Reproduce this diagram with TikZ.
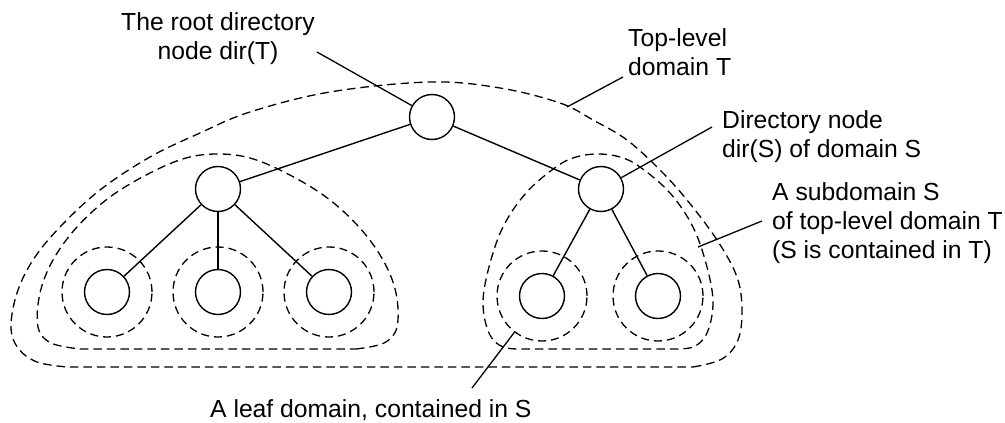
\documentclass[tikz,border=0pt]{standalone}
\usepackage{fontspec}
\setmainfont{Liberation Sans}
\begin{document}
\begin{tikzpicture}[x=1pt,y=-1pt,
  nd/.style={circle,draw,line width=1.4pt,minimum size=45pt,inner sep=0pt},
  dd/.style={circle,draw,line width=1.3pt,minimum size=90pt,inner sep=0pt,dash pattern=on 8pt off 5pt},
  dom/.style={draw,line width=1.3pt,dash pattern=on 8.5pt off 5pt},
  edge/.style={draw,line width=1.4pt},
  lead/.style={draw,line width=1.3pt},
  lbl/.style={inner sep=0pt,font=\fontsize{24.7}{29}\selectfont}
]
\useasboundingbox (0,0) rectangle (1005,423);

% top-level domain outline
\draw[dom] plot[smooth,tension=0.6] coordinates {(693,367) (722,359) (738,340) (742,310) (737,277) (717,240) (687,200) (660,170) (627,140) (593,120) (560,103) (500,88) (430,82) (330,92) (250,112) (200,133) (150,157) (100,190) (60,227) (33,260) (17,293) (11,327) (18,348) (37,362) (67,367)} -- cycle;

% left subdomain
\draw[dom] plot[smooth,tension=0.6] coordinates {(356,349) (384,343) (397,327) (396,293) (383,260) (359,227) (326,197) (286,173) (250,158) (218,154) (186,158) (150,173) (110,197) (77,227) (53,260) (40,293) (38,327) (51,343) (80,349)} -- cycle;

% right subdomain
\draw[dom] plot[smooth,tension=0.6] coordinates {(670,349) (693,347) (707,333) (713,303) (707,267) (693,227) (670,193) (640,167) (620,157) (598,154) (576,157) (556,167) (526,193) (503,227) (489,267) (483,303) (489,333) (503,347) (526,349)} -- cycle;

% nodes
\node[nd] (root) at (432,117) {};
\node[nd] (ls) at (218,189) {};
\node[nd] (rs) at (601,189) {};
\node[nd] (l1) at (107,292) {};
\node[nd] (l2) at (218,292) {};
\node[nd] (l3) at (329,292) {};
\node[nd] (r1) at (542,296) {};
\node[nd] (r2) at (658,296) {};

\node[dd] (l1d) at (l1) {};
\node[dd] (l2d) at (l2) {};
\node[dd] (l3d) at (l3) {};
\node[dd] (r1d) at (r1) {};
\node[dd] (r2d) at (r2) {};

% edges
\path[edge] (root) -- (ls);
\path[edge] (root) -- (rs);
\path[edge] (ls) -- (l1);
\path[edge] (ls) -- (l2);
\path[edge] (ls) -- (l3);
\path[edge] (rs) -- (r1);
\path[edge] (rs) -- (r2);

% labels
\node[lbl,align=center] (tr) at (218,39) {The root directory\\node dir(T)};
\node[lbl,align=left,anchor=west] (tt) at (628,52) {Top-level\\domain T};
\node[lbl,align=left,anchor=west] (td) at (722,137) {Directory node\\dir(S) of domain S};
\node[lbl,align=left,anchor=west] (ts) at (772,223) {A subdomain S\\of top-level domain T\\(S is contained in T)};
\node[lbl,anchor=west] (tl) at (210,410) {A leaf domain, contained in S};

% leaders
\coordinate (c1) at (317,52);
\coordinate (c2) at (623,77);
\coordinate (c2e) at (567,107);
\coordinate (c3) at (712,127);
\coordinate (c4) at (762,221);
\coordinate (c4e) at (698,247);
\coordinate (c5) at (472,388);
\path[lead] (c1) -- (root);
\path[lead] (c2) -- (c2e);
\path[lead] (c3) -- (rs);
\path[lead] (c4) -- (c4e);
\path[lead] (c5) -- (r1d);
\end{tikzpicture}
\end{document}
